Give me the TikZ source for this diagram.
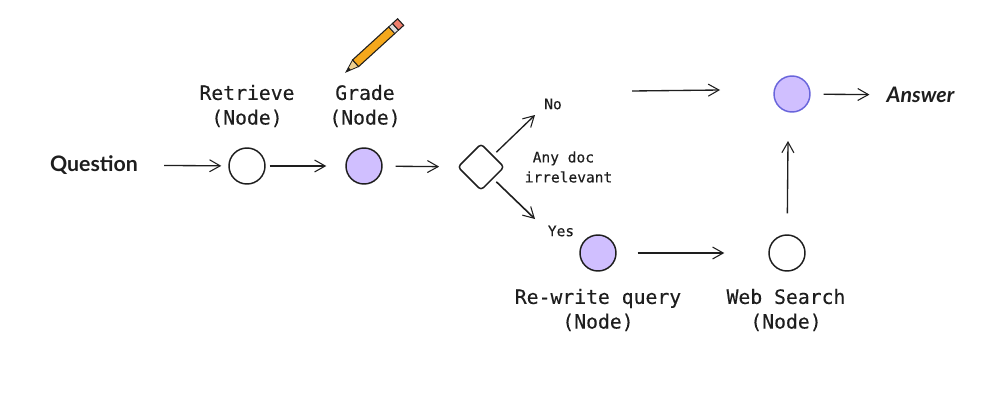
\documentclass[tikz,border=0pt]{standalone}
\usepackage{fontspec}
\newfontfamily\monomed{DejaVu Sans Mono}[FakeBold=0.25]
\newfontfamily\handfont{Lato}[ItalicFont=* Italic]
\usetikzlibrary{arrows.meta,shapes.geometric}
\definecolor{ink}{HTML}{1E1E1E}
\definecolor{lilac}{HTML}{D0BFFF}
\definecolor{violet2}{HTML}{6965DB}
\definecolor{pencilbody}{HTML}{F5A81C}
\definecolor{penciltip}{HTML}{EFD08F}
\definecolor{pencilrub}{HTML}{F07F6E}
\tikzset{
  openstate/.style={circle,draw=ink,line width=1.1pt,fill=white,minimum size=27pt,inner sep=0pt},
  gradestate/.style={circle,draw=ink,line width=1.1pt,fill=lilac,minimum size=27pt,inner sep=0pt},
  finalstate/.style={circle,draw=violet2,line width=1.1pt,fill=lilac,minimum size=27pt,inner sep=0pt},
  choice/.style={diamond,draw=ink,line width=1.1pt,fill=white,minimum width=35pt,minimum height=35pt,inner sep=0pt,rounded corners=2.5pt},
  title/.style={font=\monomed\fontsize{14.8}{18.5}\selectfont,text=ink,align=center,inner sep=0pt},
  small/.style={font=\monomed\fontsize{10.9}{15}\selectfont,text=ink,inner sep=0pt},
  hand/.style={font=\handfont\fontsize{16}{18}\selectfont,text=ink,inner sep=0pt},
  flow/.style={draw=ink,line width=1pt,-{Straight Barb[length=8pt,width=9pt,line width=.8pt]}},
}
\begin{document}
\begin{tikzpicture}[x=0.75pt,y=-0.75pt]
\useasboundingbox[fill=white] (0,0) rectangle (992,407);
% nodes
\node[hand] (question) at (94,165) {\bfseries Question};
\node[openstate] (retrieve) at (247,166) {};
\node[gradestate] (grade) at (364,166) {};
\node[choice] (decide) at (481,167) {};
\node[small] (no) at (553,104) {No};
\node[small] (yes) at (561,231) {Yes};
\node[gradestate] (rewrite) at (598,253) {};
\node[openstate] (search) at (787,253) {};
\node[finalstate] (final) at (792,94) {};
\node[hand] (answer) at (920.5,95) {\bfseries\itshape Answer};
\coordinate (gapstart) at (632,91);
\coordinate (gapend) at (720,90);
\coordinate (notip) at (535,115);
\coordinate (yestip) at (535,219);
\coordinate (finalbelow) at (788,141);
% labels
\node[title] (retrievelabel) at (247,106) {Retrieve\\(Node)};
\node[title] (gradelabel) at (365,106) {Grade\\(Node)};
\node[title] (rewritelabel) at (598,310) {Re-write query\\(Node)};
\node[title] (searchlabel) at (786,310) {Web Search\\(Node)};
\node[small,align=left] (anydoc) at (568.5,167) {\hspace*{6pt}Any doc\\irrelevant};
% connectors
\draw[flow,shorten <=26pt*0.75,shorten >=7pt*0.75] (question) -- (retrieve);
\draw[flow,shorten <=4pt*0.75,shorten >=19pt*0.75] (retrieve) -- (grade);
\draw[flow,shorten <=13pt*0.75,shorten >=18pt*0.75] (grade) -- (decide);
\draw[flow,shorten <=16pt] (decide.center) -- (notip);
\draw[flow,line width=1.2pt,shorten <=16pt] (decide.center) -- (yestip);
\draw[flow] (gapstart) -- (gapend);
\draw[flow,shorten <=13pt*0.75,shorten >=17pt*0.75] (final) -- (answer);
\draw[flow,shorten <=21pt*0.75,shorten >=44pt*0.75] (rewrite) -- (search);
\draw[flow,shorten <=21pt*0.75] (search) -- (finalbelow);
% pencil
\begin{scope}[shift={(346,72)},rotate=42.4]
  \filldraw[draw=ink,fill=penciltip,line width=.6pt] (0,0) -- (13,-4.5) -- (13,4.5) -- cycle;
  \fill[ink] (0,0) -- (5,-1.7) -- (5,1.7) -- cycle;
  \filldraw[draw=ink,fill=pencilbody,line width=.8pt] (13,-4.5) rectangle (62,4.5);
  \filldraw[draw=ink,fill=gray!25,line width=.6pt] (62,-4.5) rectangle (67,4.5);
  \filldraw[draw=ink,fill=pencilrub,line width=.8pt] (67,-4.5) rectangle (74,4.5);
\end{scope}
\end{tikzpicture}
\end{document}
